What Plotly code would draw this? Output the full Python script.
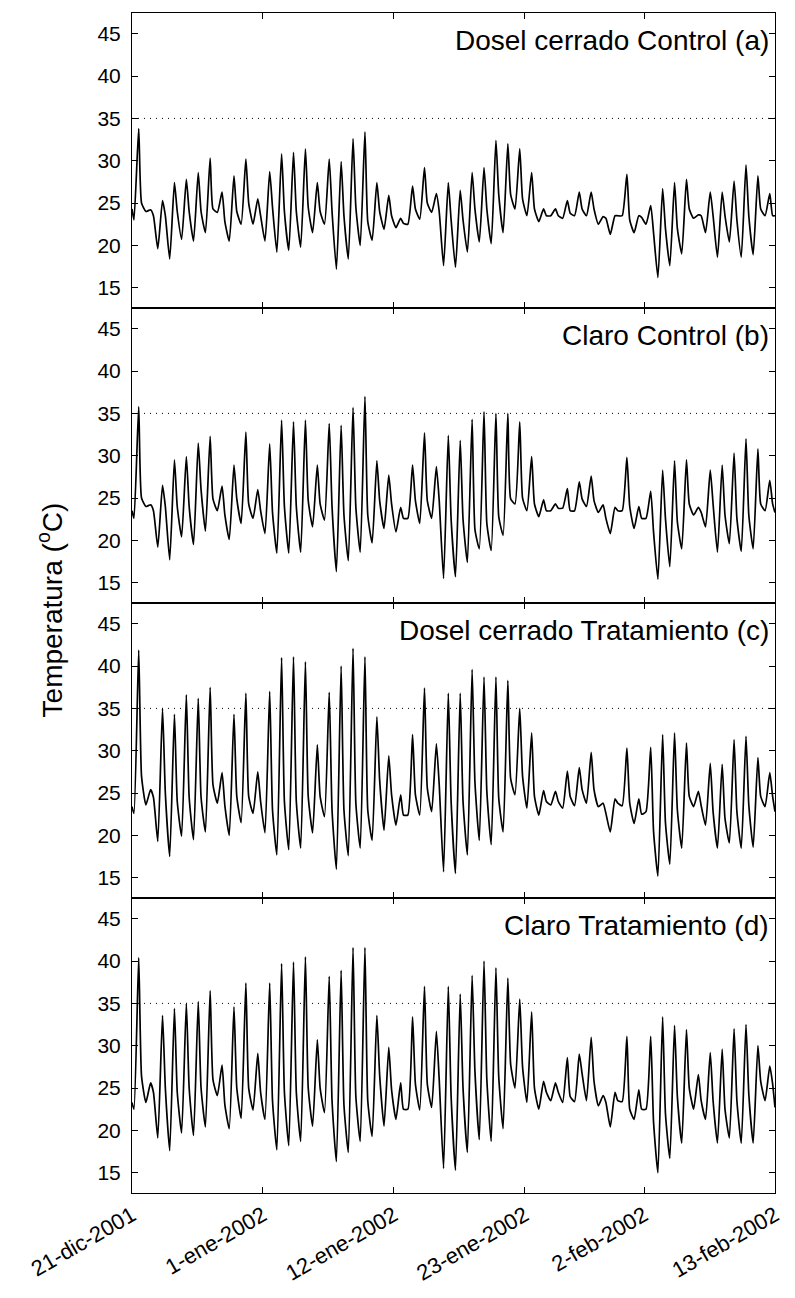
import pandas as pd
import plotly.graph_objects as go
from plotly.subplots import make_subplots

START = pd.Timestamp("2001-12-21")
N_DAYS = 54

tick_dates = ["2001-12-21", "2002-01-01", "2002-01-12", "2002-01-23", "2002-02-02", "2002-02-13"]
tick_labels = ["21-dic-2001", "1-ene-2002", "12-ene-2002", "23-ene-2002", "2-feb-2002", "13-feb-2002"]

panel_titles = ["Dosel cerrado Control (a)", "Claro Control (b)",
                "Dosel cerrado Tratamiento (c)", "Claro Tratamiento (d)"]

# hour of day of the daily minimum, maximum and evening reading
HOUR_MIN, HOUR_MAX, HOUR_EVE = 4.0, 13.5, 19.2

# ---- (a) Dosel cerrado Control
start_a, end_a = 24.3, 23.5
tmin_a = [23.0, 24.0, 19.6, 18.4, 20.7, 20.5, 21.5, 23.9, 20.5, 22.5, 22.5, 20.5, 19.2, 19.4, 19.8, 21.5, 22.5, 17.2,
          18.4, 20.0, 20.6, 21.9, 22.1, 22.5, 23.1, 23.9, 17.6, 17.4, 19.2, 20.4, 20.2, 21.5, 24.3, 23.5, 22.8, 23.5,
          23.2, 23.5, 23.5, 22.5, 21.3, 23.5, 21.5, 22.5, 16.2, 17.6, 19.0, 23.2, 21.5, 18.6, 20.4, 18.6, 18.9, 23.5]
tmax_a = [33.8, 24.2, 25.3, 27.4, 27.8, 28.6, 30.3, 26.3, 28.2, 30.2, 25.5, 28.7, 30.8, 31.0, 31.4, 27.4, 30.2, 29.9,
          32.6, 33.4, 27.4, 25.9, 23.2, 27.0, 29.2, 26.1, 27.4, 26.5, 28.6, 29.2, 32.4, 32.0, 31.4, 28.6, 24.3, 24.3,
          25.3, 26.3, 26.3, 23.4, 23.5, 28.4, 23.5, 24.7, 26.7, 27.4, 27.8, 23.6, 26.3, 26.3, 27.6, 29.5, 28.2, 26.1]
teve_a = [25.0, 23.5, 23.5, 24.0, 24.0, 24.0, 24.3, 22.8, 24.0, 25.0, 23.5, 24.5, 24.0, 24.0, 24.5, 24.0, 24.0, 23.5,
          24.5, 22.8, 24.0, 23.5, 22.6, 24.3, 25.0, 24.0, 23.0, 23.0, 24.3, 24.3, 26.0, 26.0, 25.5, 24.3, 23.5, 23.5,
          23.8, 24.3, 24.3, 23.2, 23.5, 23.0, 23.3, 21.5, 22.0, 22.0, 24.3, 23.5, 23.5, 23.5, 23.0, 23.5, 24.3, 23.5]

# ---- (b) Claro Control
start_b, end_b = 23.5, 23.3
tmin_b = [22.6, 24.0, 19.2, 17.7, 20.4, 19.5, 21.1, 23.5, 20.1, 22.0, 22.6, 20.8, 18.5, 18.5, 18.6, 21.6, 22.4, 16.3,
          17.6, 18.6, 19.7, 21.4, 21.0, 22.6, 22.0, 22.6, 15.5, 15.7, 17.4, 19.0, 18.8, 20.6, 24.3, 23.5, 22.8, 23.5,
          23.8, 23.5, 24.0, 23.3, 20.8, 23.5, 21.4, 22.6, 15.4, 16.9, 19.0, 23.0, 21.6, 18.6, 19.6, 18.7, 19.0, 23.5]
tmax_b = [35.8, 24.2, 26.5, 29.5, 29.9, 31.5, 32.3, 26.4, 28.9, 32.8, 26.0, 31.4, 34.2, 34.0, 34.2, 28.9, 33.8, 33.6,
          35.7, 37.0, 29.4, 27.7, 23.9, 28.9, 32.7, 28.7, 32.4, 31.8, 34.3, 35.2, 35.0, 35.0, 34.0, 29.9, 24.8, 24.3,
          26.1, 26.9, 27.6, 24.2, 23.9, 29.8, 24.0, 25.8, 28.3, 29.4, 29.5, 23.9, 28.3, 28.9, 30.3, 32.0, 30.8, 27.1]
teve_b = [25.0, 23.5, 24.0, 24.0, 24.0, 26.0, 24.9, 23.0, 24.9, 24.3, 23.5, 23.3, 24.0, 24.0, 24.7, 24.3, 24.0, 23.0,
          23.9, 23.0, 24.7, 24.3, 22.6, 24.7, 24.7, 24.7, 22.5, 22.5, 21.3, 22.0, 22.8, 24.9, 25.0, 24.3, 23.5, 23.8,
          23.5, 24.9, 24.7, 22.6, 23.5, 24.0, 22.6, 21.0, 22.6, 22.2, 24.3, 23.3, 24.3, 23.0, 22.6, 23.0, 24.3, 24.3]

# ---- (c) Dosel cerrado Tratamiento
start_c, end_c = 23.4, 22.8
tmin_c = [22.6, 23.6, 19.3, 17.5, 19.9, 19.5, 20.4, 23.8, 20.0, 21.5, 22.6, 20.3, 17.7, 18.3, 18.5, 20.3, 22.2, 16.0,
          17.6, 18.5, 19.4, 20.6, 21.2, 22.4, 22.4, 22.8, 15.7, 15.5, 17.7, 19.4, 18.9, 20.4, 24.8, 23.2, 22.4, 23.6,
          23.2, 23.5, 23.8, 23.4, 20.4, 23.5, 21.4, 22.8, 15.2, 16.6, 18.5, 23.4, 21.2, 18.5, 19.1, 18.5, 18.6, 23.4]
tmax_c = [41.9, 25.4, 35.0, 34.3, 36.6, 36.2, 37.5, 27.4, 34.3, 36.8, 27.5, 37.0, 41.0, 41.1, 40.5, 30.7, 36.9, 40.0,
          42.1, 41.1, 34.0, 29.4, 24.8, 31.9, 37.4, 30.8, 36.8, 36.8, 39.6, 38.7, 38.7, 38.3, 35.0, 32.1, 25.3, 25.2,
          27.6, 28.0, 29.8, 23.8, 24.3, 30.3, 24.3, 30.4, 31.9, 32.1, 30.9, 25.2, 28.5, 28.4, 31.3, 31.7, 29.2, 27.4]
teve_c = [27.0, 24.5, 25.0, 24.0, 24.5, 24.5, 26.0, 23.5, 24.6, 24.6, 24.0, 23.0, 24.0, 24.0, 24.6, 24.6, 23.0, 23.0,
          23.8, 23.0, 26.5, 24.8, 22.4, 24.8, 25.6, 26.0, 24.0, 24.0, 26.3, 25.2, 24.4, 26.7, 27.0, 24.6, 24.0, 24.0,
          24.6, 25.4, 25.4, 22.6, 23.8, 23.8, 22.5, 20.5, 21.5, 23.0, 24.6, 23.5, 22.8, 22.0, 22.8, 23.6, 24.6, 24.6]

# ---- (d) Claro Tratamiento
start_d, end_d = 23.3, 22.7
tmin_d = [22.5, 23.3, 19.1, 17.6, 19.7, 19.4, 20.4, 24.1, 20.2, 21.4, 22.4, 21.3, 17.7, 18.2, 18.7, 20.5, 22.1, 16.3,
          17.4, 18.7, 19.3, 20.5, 21.3, 22.5, 22.4, 22.7, 15.5, 15.3, 17.4, 18.9, 18.7, 20.2, 25.0, 23.3, 22.5, 23.5,
          23.3, 23.4, 23.5, 22.9, 20.4, 23.4, 21.3, 22.5, 15.0, 16.7, 18.5, 22.5, 21.3, 18.5, 19.1, 18.5, 18.5, 23.5]
tmax_d = [40.4, 25.6, 33.6, 34.4, 35.0, 35.2, 36.5, 27.7, 34.6, 37.4, 29.1, 37.4, 39.7, 39.9, 40.5, 30.7, 38.2, 38.9,
          41.6, 41.6, 33.6, 29.8, 25.6, 33.4, 37.0, 31.7, 37.0, 36.1, 38.3, 40.0, 39.2, 38.0, 35.5, 34.0, 25.8, 25.6,
          28.6, 29.0, 31.0, 24.1, 24.5, 31.1, 24.8, 31.1, 33.4, 32.4, 31.9, 26.6, 29.2, 29.6, 32.0, 32.5, 30.0, 27.6]
teve_d = [26.4, 24.5, 25.0, 24.5, 25.0, 25.0, 26.0, 23.0, 25.0, 25.0, 24.5, 23.5, 24.5, 24.5, 25.0, 25.0, 23.5, 23.0,
          24.0, 23.5, 26.5, 24.8, 22.5, 25.5, 25.5, 26.0, 24.0, 25.0, 27.0, 26.0, 26.3, 27.8, 27.5, 25.0, 24.5, 24.5,
          24.0, 26.7, 25.8, 23.3, 23.5, 22.5, 22.5, 21.0, 22.0, 24.0, 25.0, 23.5, 23.5, 22.5, 23.5, 24.3, 25.8, 25.5]

series = [
    (start_a, tmin_a, tmax_a, teve_a, end_a),
    (start_b, tmin_b, tmax_b, teve_b, end_b),
    (start_c, tmin_c, tmax_c, teve_c, end_c),
    (start_d, tmin_d, tmax_d, teve_d, end_d),
]


def build(start, tmin, tmax, teve, end):
    xs = [START]
    ys = [start]
    for d in range(N_DAYS):
        day = START + pd.Timedelta(days=d)
        for h, v in ((HOUR_MIN, tmin[d]), (HOUR_MAX, tmax[d]), (HOUR_EVE, teve[d])):
            xs.append(day + pd.Timedelta(hours=h))
            ys.append(v)
    xs.append(START + pd.Timedelta(days=N_DAYS))
    ys.append(end)
    return xs, ys


fig = make_subplots(rows=4, cols=1, shared_xaxes=True, vertical_spacing=0)

FONT = "Liberation Sans, Arial, sans-serif"
x_end = START + pd.Timedelta(days=N_DAYS)

for i, s in enumerate(series, start=1):
    xs, ys = build(*s)
    fig.add_trace(go.Scatter(x=xs, y=ys, mode="lines",
                             line=dict(color="black", width=1.7, shape="spline", smoothing=0.5),
                             showlegend=False),
                  row=i, col=1)
    # dotted reference line at 35 degrees
    fig.add_trace(go.Scatter(x=[START, x_end], y=[35, 35], mode="lines",
                             line=dict(color="black", width=1, dash="1px,5px"),
                             showlegend=False, hoverinfo="skip"),
                  row=i, col=1)
    fig.update_yaxes(row=i, col=1, range=[12.6, 47.45], tickvals=[15, 20, 25, 30, 35, 40, 45],
                     ticks="inside", ticklen=6, tickcolor="black", showline=True, linecolor="black",
                     linewidth=1, mirror="ticks", showgrid=False, zeroline=False,
                     ticklabelstandoff=6,
                     tickfont=dict(family=FONT, size=21, color="black"))
    fig.update_xaxes(row=i, col=1, range=[START, x_end], tickvals=tick_dates, ticktext=tick_labels,
                     ticks="inside", ticklen=6, tickcolor="black", showline=True, linecolor="black",
                     linewidth=1, mirror="ticks", showgrid=False, zeroline=False,
                     tickangle=-30, tickfont=dict(family=FONT, size=22, color="black"))
    fig.add_annotation(text=panel_titles[i - 1], xref="x domain" if i == 1 else f"x{i} domain",
                       yref="y domain" if i == 1 else f"y{i} domain",
                       x=1, y=1, xanchor="right", yanchor="middle", xshift=-4, yshift=-27,
                       showarrow=False, font=dict(family=FONT, size=28, color="black"))

fig.add_annotation(text="Temperatura (<sup>o</sup>C)", xref="paper", yref="paper",
                   x=-0.127, y=0.494, xanchor="center", yanchor="middle", textangle=-90,
                   showarrow=False, font=dict(family=FONT, size=28, color="black"))

fig.update_layout(width=795, height=1298, margin=dict(l=132, r=15, t=12, b=105),
                  paper_bgcolor="white", plot_bgcolor="white")

fig.write_html("out.html")
